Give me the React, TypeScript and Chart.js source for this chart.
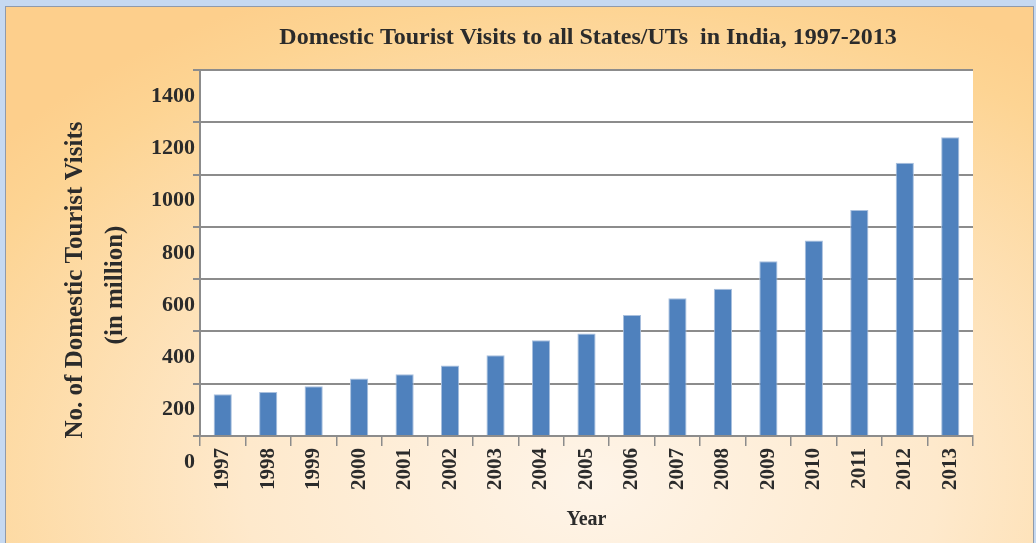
import React, { useEffect, useRef } from "react";
import { Chart, registerables } from "chart.js";

Chart.register(...registerables);

const years = ["1997", "1998", "1999", "2000", "2001", "2002", "2003", "2004", "2005", "2006", "2007", "2008", "2009", "2010", "2011", "2012", "2013"];
const visits = [159.88, 168.2, 190.67, 220.11, 236.47, 269.6, 309.04, 366.27, 391.95, 462.44, 526.7, 563.03, 668.8, 747.7, 864.53, 1045.05, 1142.53];
const yMin = 0;
const yMax = 1400;
const yStep = 200;

const chartTitle = "Domestic Tourist Visits to all States/UTs  in India, 1997-2013";
const yTitleLines = ["No. of Domestic Tourist Visits", "(in million)"];
const xTitle = "Year";

const FONT = "'Liberation Serif', 'DejaVu Serif', serif";
const TEXT = "#2b2b2b";
const GRID = "#8c8c8c";

export default function App() {
  const ref = useRef<HTMLCanvasElement | null>(null);

  useEffect(() => {
    document.body.style.margin = "0";
    const canvas = ref.current;
    if (!canvas) return;

    const decor = {
      id: "decor",
      beforeDraw(chart: any) {
        const { ctx, chartArea } = chart;
        ctx.save();
        ctx.fillStyle = "#ffffff";
        ctx.fillRect(chartArea.left, chartArea.top, chartArea.right - chartArea.left, chartArea.bottom - chartArea.top);
        ctx.restore();
      },
      afterDraw(chart: any) {
        const { ctx, chartArea } = chart;
        ctx.save();
        ctx.fillStyle = TEXT;
        ctx.textAlign = "center";
        ctx.textBaseline = "middle";
        ctx.font = `bold 24px ${FONT}`;
        ctx.fillText(chartTitle, 588, 38);
        ctx.font = `bold 20px ${FONT}`;
        ctx.fillText(xTitle, (chartArea.left + chartArea.right) / 2, 520);
        ctx.font = `bold 25px ${FONT}`;
        const xs = [76, 116];
        const ys = [280, 285];
        yTitleLines.forEach((line, i) => {
          ctx.save();
          ctx.translate(xs[i], ys[i]);
          ctx.rotate(-Math.PI / 2);
          ctx.fillText(line, 0, 0);
          ctx.restore();
        });
        ctx.restore();
      },
    };

    const chart = new Chart(canvas, {
      type: "bar",
      data: {
        labels: years,
        datasets: [
          {
            data: visits,
            backgroundColor: "#4f81bd",
            borderColor: "#a9c0de",
            borderWidth: 1,
            barPercentage: 0.8,
            categoryPercentage: 0.5,
          },
        ],
      },
      options: {
        animation: false,
        responsive: false,
        maintainAspectRatio: false,
        layout: { padding: { top: 70, right: 63, left: 0, bottom: 0 } },
        plugins: {
          legend: { display: false },
          tooltip: { enabled: false },
          title: { display: false },
        },
        scales: {
          x: {
            offset: true,
            afterFit: (s: any) => {
              s.height = 107;
            },
            grid: {
              offset: true,
              drawOnChartArea: false,
              drawTicks: true,
              tickLength: 10,
              color: GRID,
              lineWidth: 1.5,
            },
            border: { display: true, color: GRID, width: 2 },
            ticks: {
              autoSkip: false,
              maxRotation: 90,
              minRotation: 90,
              padding: 2,
              color: TEXT,
              font: { family: FONT, size: 21, weight: "bold" },
            },
          },
          y: {
            min: yMin,
            max: yMax,
            afterFit: (s: any) => {
              s.width = 200;
            },
            grid: {
              drawTicks: true,
              tickLength: 7,
              color: GRID,
              lineWidth: 2,
            },
            border: { display: true, color: GRID, width: 2 },
            ticks: {
              stepSize: yStep,
              labelOffset: 26,
              padding: -2,
              color: TEXT,
              font: { family: FONT, size: 22, weight: "bold" },
              callback: (v: any) => String(v),
            },
          },
        },
      },
      plugins: [decor],
    });

    return () => chart.destroy();
  }, []);

  return (
    <div style={{ position: "absolute", left: 0, top: 0, width: 1036, height: 543, background: "#c6d9f1", overflow: "hidden" }}>
      <div
        style={{
          position: "absolute",
          left: 5,
          top: 6,
          width: 1027,
          height: 560,
          borderLeft: "1px solid #8f9aab",
          borderTop: "1px solid #8f9aab",
          borderRight: "1px solid #8f9aab",
          background: "radial-gradient(ellipse 75% 95% at 57% 85%, #fef4e8 0%, #fee9cc 45%, #fdd493 90%, #fdcf8c 100%)",
        }}
      />
      <canvas ref={ref} width={1036} height={543} style={{ position: "absolute", left: 0, top: 0, display: "block" }} />
    </div>
  );
}
